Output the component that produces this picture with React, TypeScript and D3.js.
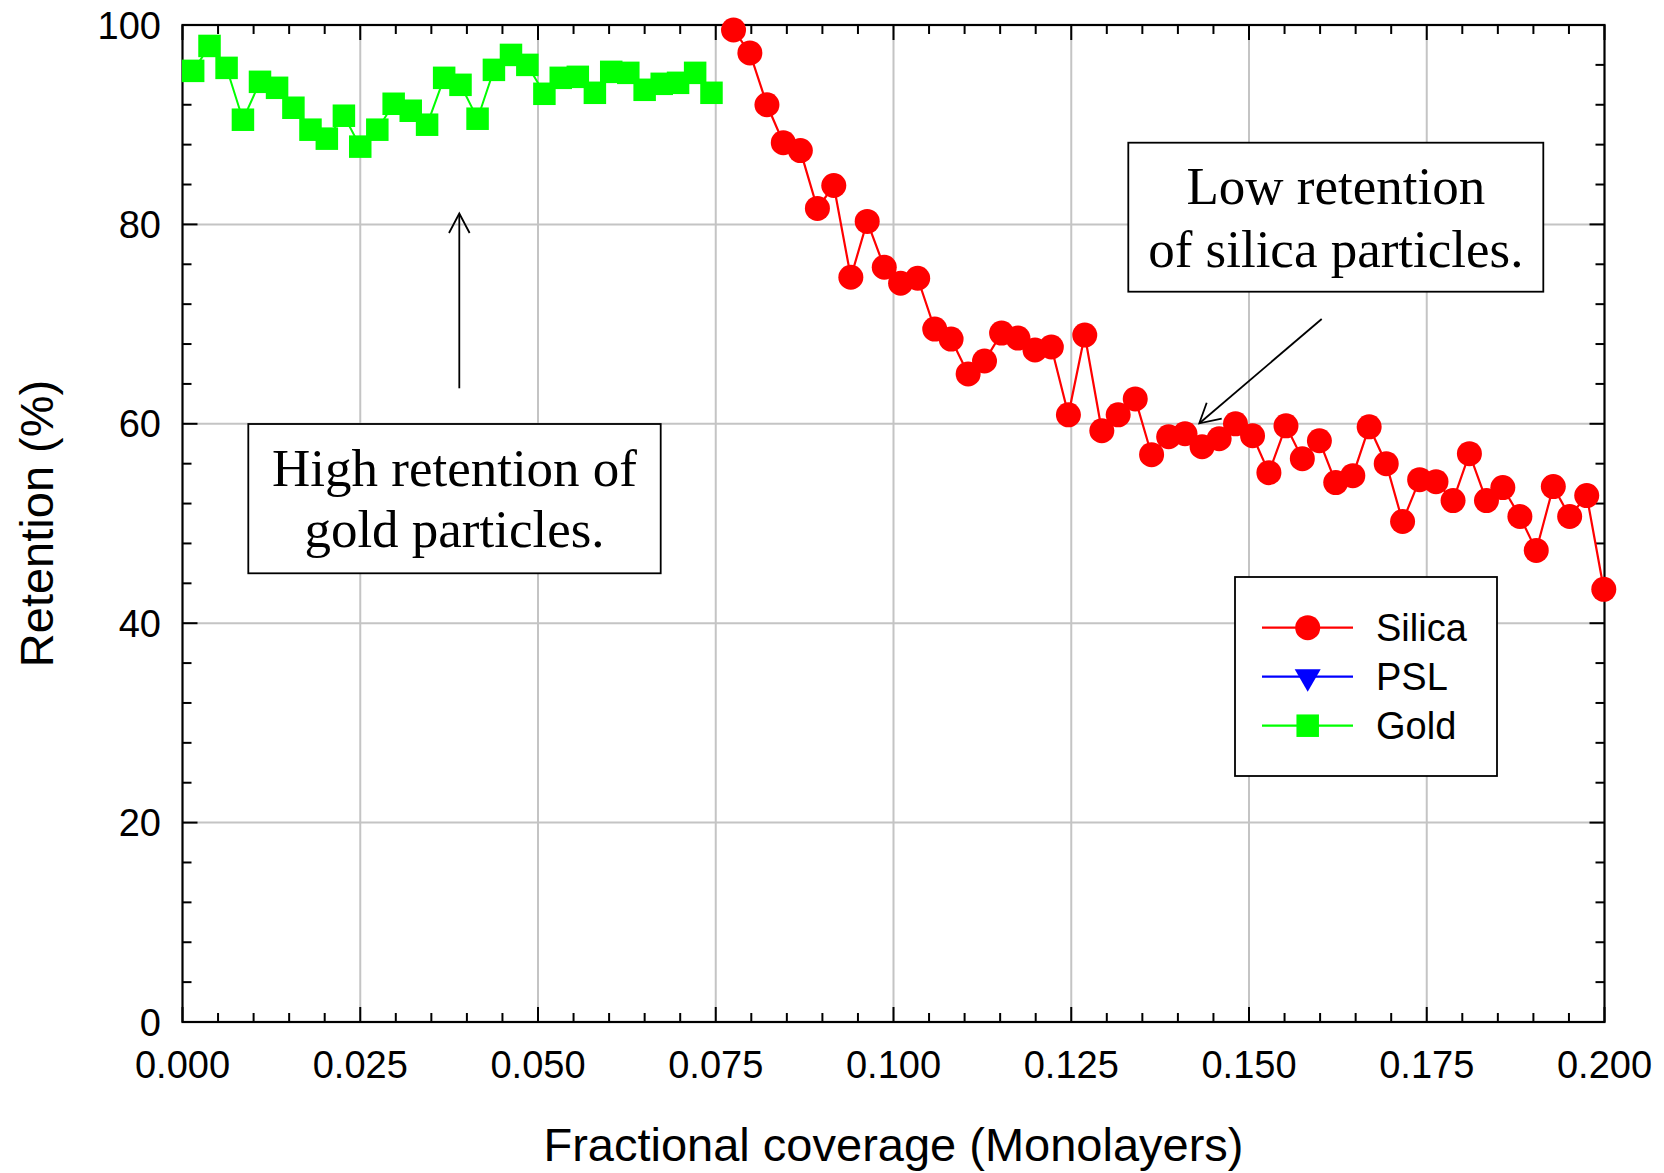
import React from "react";
import * as d3 from "d3";

const goldX = [0.0015, 0.0038, 0.0062, 0.0085, 0.0109, 0.0133, 0.0156, 0.0180, 0.0203, 0.0227, 0.0250, 0.0274, 0.0297, 0.0321, 0.0344, 0.0368, 0.0391, 0.0415, 0.0438, 0.0462, 0.0485, 0.0509, 0.0532, 0.0556, 0.0580, 0.0603, 0.0627, 0.0650, 0.0674, 0.0697, 0.0721, 0.0744];
const goldY = [95.4, 97.9, 95.7, 90.5, 94.3, 93.7, 91.7, 89.5, 88.6, 90.9, 87.8, 89.5, 92.1, 91.4, 90.0, 94.7, 94.0, 90.6, 95.5, 97.0, 96.0, 93.1, 94.7, 94.8, 93.2, 95.3, 95.2, 93.5, 94.1, 94.2, 95.2, 93.2];

const silicaX = [0.0775, 0.0798, 0.0822, 0.0845, 0.0869, 0.0893, 0.0916, 0.0940, 0.0963, 0.0987, 0.1010, 0.1034, 0.1058, 0.1081, 0.1105, 0.1128, 0.1152, 0.1175, 0.1199, 0.1222, 0.1246, 0.1269, 0.1293, 0.1316, 0.1340, 0.1363, 0.1387, 0.1410, 0.1434, 0.1458, 0.1481, 0.1505, 0.1528, 0.1552, 0.1575, 0.1599, 0.1622, 0.1646, 0.1669, 0.1693, 0.1716, 0.1740, 0.1763, 0.1787, 0.1810, 0.1834, 0.1857, 0.1881, 0.1904, 0.1928, 0.1951, 0.1975, 0.1999];
const silicaY = [99.5, 97.2, 92.0, 88.2, 87.4, 81.6, 83.9, 74.7, 80.3, 75.7, 74.1, 74.6, 69.5, 68.5, 65.0, 66.3, 69.1, 68.6, 67.4, 67.7, 60.9, 68.9, 59.3, 60.9, 62.5, 56.9, 58.7, 59.0, 57.7, 58.5, 60.0, 58.8, 55.1, 59.8, 56.5, 58.3, 54.1, 54.8, 59.7, 56.0, 50.2, 54.4, 54.2, 52.3, 57.0, 52.3, 53.6, 50.7, 47.3, 53.7, 50.7, 52.8, 43.4];

const pslX: number[] = [];
const pslY: number[] = [];

const xTicks = [0, 0.025, 0.05, 0.075, 0.1, 0.125, 0.15, 0.175, 0.2];
const xTickLabels = ["0.000", "0.025", "0.050", "0.075", "0.100", "0.125", "0.150", "0.175", "0.200"];
const yTicks = [0, 20, 40, 60, 80, 100];
const yTickLabels = ["0", "20", "40", "60", "80", "100"];

const legendNames = ["Silica", "PSL", "Gold"];
const legendColors = ["#ff0000", "#0000ff", "#00ff00"];

const xTitle = "Fractional coverage (Monolayers)";
const yTitle = "Retention (%)";
const note1 = ["High retention of", "gold particles."];
const note2 = ["Low retention", "of silica particles."];

const SANS = "'Liberation Sans', Arial, Helvetica, sans-serif";
const SERIF = "'Liberation Serif', 'Times New Roman', Times, serif";

export default function App() {
  const W = 1664, H = 1173;
  const L = 182.5, R = 1604.5, T = 25, B = 1022;
  const x = d3.scaleLinear().domain([0, 0.2]).range([L, R]);
  const y = d3.scaleLinear().domain([0, 100]).range([B, T]);

  const minorX = d3.range(0, 41).map((i) => i * 0.005);
  const minorY = d3.range(0, 26).map((i) => i * 4);

  const line = d3.line<[number, number]>().x((d) => x(d[0])).y((d) => y(d[1]));
  const gold: [number, number][] = goldX.map((v, i) => [v, goldY[i]]);
  const silica: [number, number][] = silicaX.map((v, i) => [v, silicaY[i]]);
  const psl: [number, number][] = pslX.map((v, i) => [v, pslY[i]]);

  const grid = "#c4c4c4";
  const sq = 22.5;
  const rad = 12.5;

  const legX = 1235, legY = 577, legW = 262, legH = 199;
  const rows = [627.7, 676.7, 725.7];
  const lx1 = 1262, lx2 = 1353, lmx = 1307.7;

  return (
    <svg width={W} height={H} viewBox={`0 0 ${W} ${H}`} style={{ display: "block", position: "absolute", left: 0, top: 0, background: "#fff" }}>
      <rect x={0} y={0} width={W} height={H} fill="#fff" />
      {/* grid */}
      {xTicks.slice(1, -1).map((t) => (
        <line key={"gx" + t} x1={x(t)} x2={x(t)} y1={T} y2={B} stroke={grid} strokeWidth={2} />
      ))}
      {yTicks.slice(1, -1).map((t) => (
        <line key={"gy" + t} x1={L} x2={R} y1={y(t)} y2={y(t)} stroke={grid} strokeWidth={2} />
      ))}

      {/* annotation boxes */}
      <rect x={248.3} y={424} width={412.4} height={149.3} fill="#fff" stroke="#000" strokeWidth={1.8} />
      {note1.map((s, i) => (
        <text key={"n1" + i} x={454.5} y={486 + i * 61} textAnchor="middle" fontFamily={SERIF} fontSize={53}>{s}</text>
      ))}
      <line x1={459.3} y1={388.3} x2={459.3} y2={214} stroke="#000" strokeWidth={1.8} />
      <polyline points="449,233 459.3,213.5 469.6,233" fill="none" stroke="#000" strokeWidth={1.8} />

      <rect x={1128.3} y={142.7} width={415} height={149} fill="#fff" stroke="#000" strokeWidth={1.8} />
      {note2.map((s, i) => (
        <text key={"n2" + i} x={1335.8} y={204 + i * 62.7} textAnchor="middle" fontFamily={SERIF} fontSize={53}>{s}</text>
      ))}
      <line x1={1321.7} y1={319} x2={1200} y2={422.7} stroke="#000" strokeWidth={1.8} />
      <polyline points="1206.7,402.7 1199.3,423.3 1221.7,418.7" fill="none" stroke="#000" strokeWidth={1.8} />

      {/* frame */}
      <rect x={L} y={T} width={R - L} height={B - T} fill="none" stroke="#000" strokeWidth={2.2} />
      {/* ticks */}
      {minorX.map((t, i) => {
        const major = i % 5 === 0;
        const len = major ? 15 : 9;
        return (
          <g key={"tx" + i}>
            <line x1={x(t)} x2={x(t)} y1={B} y2={B - len} stroke="#000" strokeWidth={2} />
            <line x1={x(t)} x2={x(t)} y1={T} y2={T + len} stroke="#000" strokeWidth={2} />
          </g>
        );
      })}
      {minorY.map((t, i) => {
        const major = i % 5 === 0;
        const len = major ? 15 : 9;
        return (
          <g key={"ty" + i}>
            <line x1={L} x2={L + len} y1={y(t)} y2={y(t)} stroke="#000" strokeWidth={2} />
            <line x1={R} x2={R - len} y1={y(t)} y2={y(t)} stroke="#000" strokeWidth={2} />
          </g>
        );
      })}

      {/* tick labels */}
      {xTicks.map((t, i) => (
        <text key={"xl" + i} x={x(t)} y={1078} textAnchor="middle" fontFamily={SANS} fontSize={38}>{xTickLabels[i]}</text>
      ))}
      {yTicks.map((t, i) => (
        <text key={"yl" + i} x={161} y={y(t) + 13.5} textAnchor="end" fontFamily={SANS} fontSize={38}>{yTickLabels[i]}</text>
      ))}

      {/* axis titles */}
      <text x={(L + R) / 2} y={1161} textAnchor="middle" fontFamily={SANS} fontSize={47}>{xTitle}</text>
      <text transform={`translate(53, ${(T + B) / 2}) rotate(-90)`} textAnchor="middle" fontFamily={SANS} fontSize={47}>{yTitle}</text>

      {/* data */}
      <path d={line(gold) || ""} fill="none" stroke="#00ff00" strokeWidth={2} />
      {gold.map((d, i) => (
        <rect key={"g" + i} x={x(d[0]) - sq / 2} y={y(d[1]) - sq / 2} width={sq} height={sq} fill="#00ff00" />
      ))}
      {psl.length > 0 && <path d={line(psl) || ""} fill="none" stroke="#0000ff" strokeWidth={2} />}
      <path d={line(silica) || ""} fill="none" stroke="#ff0000" strokeWidth={2.2} />
      {silica.map((d, i) => (
        <circle key={"s" + i} cx={x(d[0])} cy={y(d[1])} r={rad} fill="#ff0000" />
      ))}

      {/* legend */}
      <rect x={legX} y={legY} width={legW} height={legH} fill="#fff" stroke="#000" strokeWidth={1.8} />
      {legendNames.map((n, i) => (
        <g key={"lg" + i}>
          <line x1={lx1} x2={lx2} y1={rows[i]} y2={rows[i]} stroke={legendColors[i]} strokeWidth={2.2} />
          {i === 0 && <circle cx={lmx} cy={rows[i]} r={rad} fill={legendColors[i]} />}
          {i === 1 && (
            <path d={`M${lmx - 13},${rows[i] - 7.5} L${lmx + 13},${rows[i] - 7.5} L${lmx},${rows[i] + 15} Z`} fill={legendColors[i]} />
          )}
          {i === 2 && <rect x={lmx - sq / 2} y={rows[i] - sq / 2} width={sq} height={sq} fill={legendColors[i]} />}
          <text x={1376} y={rows[i] + 13.5} fontFamily={SANS} fontSize={38}>{n}</text>
        </g>
      ))}
    </svg>
  );
}
